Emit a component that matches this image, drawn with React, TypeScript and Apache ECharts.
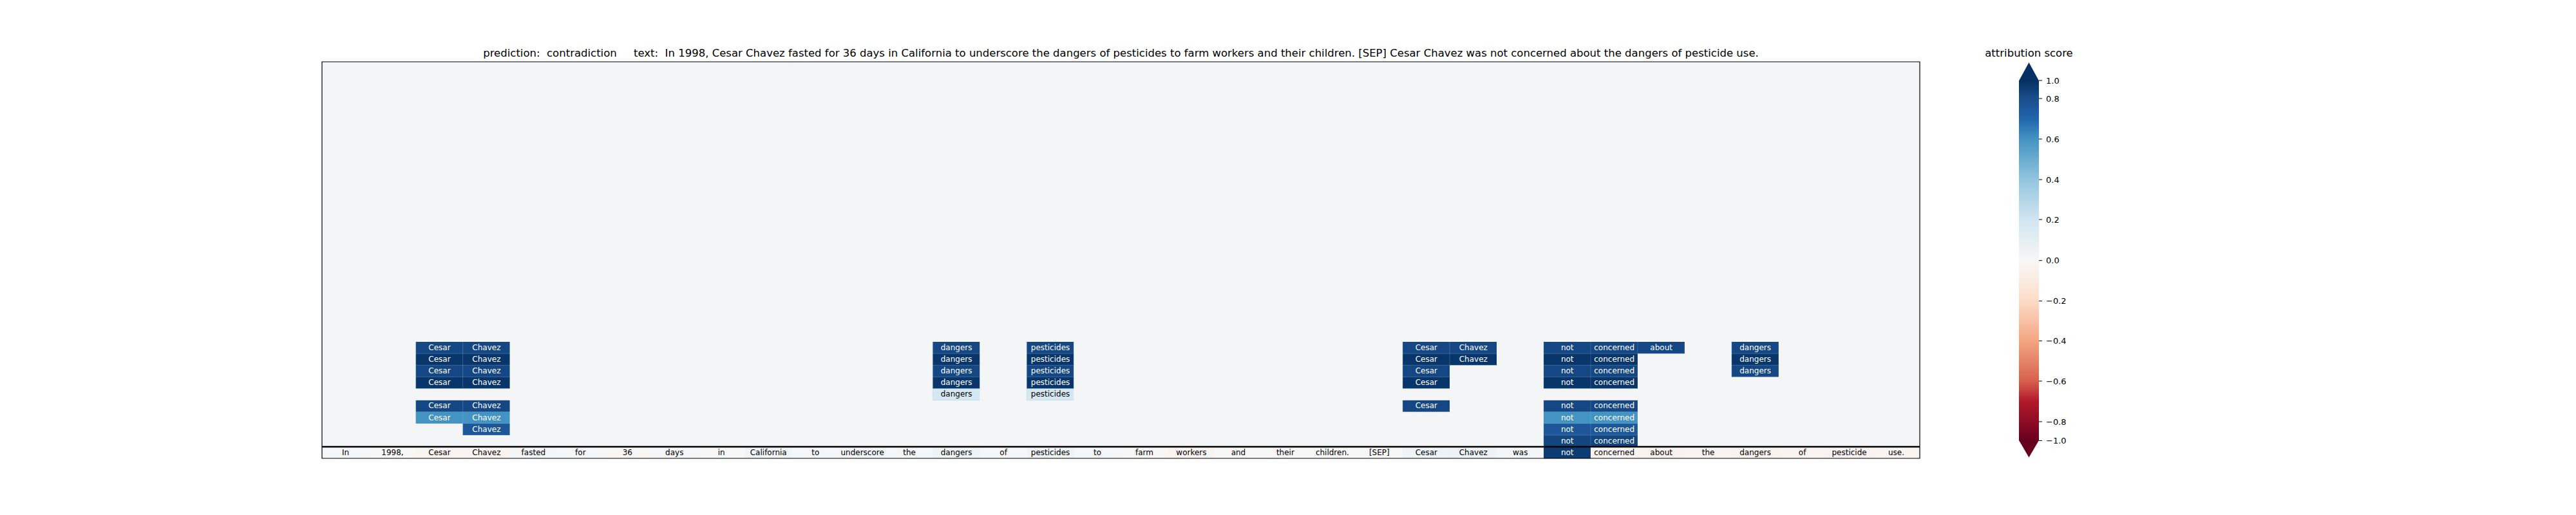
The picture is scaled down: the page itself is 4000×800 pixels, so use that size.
import React, { useEffect, useRef } from "react";
import * as echarts from "echarts";

// ---------------- data ----------------
const tokens = [
  "In", "1998,", "Cesar", "Chavez", "fasted", "for", "36", "days", "in", "California",
  "to", "underscore", "the", "dangers", "of", "pesticides", "to", "farm", "workers", "and",
  "their", "children.", "[SEP]", "Cesar", "Chavez", "was", "not", "concerned", "about", "the",
  "dangers", "of", "pesticide", "use.",
];

const rowCount = 34;
const backgroundScore = 0.018;

// bottom row: attribution of each input token
const inputRowScores = [
  0.01, 0.0, -0.02, -0.02, 0.02, 0.01, -0.01, 0.01, 0.0, 0.03,
  0.01, 0.03, 0.01, 0.05, 0.01, 0.05, 0.01, 0.0, -0.02, 0.0,
  0.0, 0.0, 0.0, 0.05, 0.06, 0.02, 0.92, -0.02, -0.04, -0.02,
  -0.03, -0.02, -0.03, -0.02,
];

// highlighted cells per row (row index counted from the bottom): [token index, score]
const row1 = [[26, 0.86], [27, 0.86]];
const row2 = [[3, 0.76], [26, 0.76], [27, 0.76]];
const row3 = [[2, 0.6], [3, 0.6], [26, 0.6], [27, 0.6]];
const row4 = [[2, 0.84], [3, 0.84], [23, 0.84], [26, 0.84], [27, 0.84]];
const row5 = [[13, 0.18], [15, 0.18]];
const row6 = [[2, 0.96], [3, 0.96], [13, 0.96], [15, 0.96], [23, 0.96], [26, 0.96], [27, 0.96]];
const row7 = [[2, 0.84], [3, 0.84], [13, 0.84], [15, 0.84], [23, 0.84], [26, 0.84], [27, 0.84], [30, 0.84]];
const row8 = [[2, 0.96], [3, 0.96], [13, 0.96], [15, 0.96], [23, 0.96], [24, 0.96], [26, 0.96], [27, 0.96], [30, 0.96]];
const row9 = [[2, 0.84], [3, 0.84], [13, 0.84], [15, 0.84], [23, 0.84], [24, 0.84], [26, 0.84], [27, 0.84], [28, 0.84], [30, 0.84]];
const highlightedRows: Record<number, number[][]> = { 1: row1, 2: row2, 3: row3, 4: row4, 5: row5, 6: row6, 7: row7, 8: row8, 9: row9 };

const titleText =
  "prediction:  contradiction     text:  In 1998, Cesar Chavez fasted for 36 days in California to underscore the dangers of pesticides to farm workers and their children. [SEP] Cesar Chavez was not concerned about the dangers of pesticide use.";
const colorbarTitle = "attribution score";
const colorbarTickValues = [1.0, 0.8, 0.6, 0.4, 0.2, 0.0, -0.2, -0.4, -0.6, -0.8, -1.0];
const colorbarTickLabels = ["1.0", "0.8", "0.6", "0.4", "0.2", "0.0", "\u22120.2", "\u22120.4", "\u22120.6", "\u22120.8", "\u22121.0"];

// RdBu palette, values 1.0 -> -1.0 in steps of 0.1
const rdbuColors = [
  "#053061", "#0e3f77", "#1a4d8c", "#2166ac", "#4393c3", "#6bacd1", "#92c5de", "#b2d5e7",
  "#d1e5f0", "#e4eef3", "#f7f7f7", "#faeae0", "#fddbc7", "#f9c0a5", "#f4a582", "#e58368",
  "#d6604d", "#b2182b", "#8e0c25", "#7a0622", "#67001f",
];

// ---------------- layout ----------------
const GRID = { left: 500, top: 96, width: 2481, height: 616 };
const FONT = "DejaVu Sans, Verdana, sans-serif";
const CB = { x: 3135, w: 31, top: 125, bottom: 684.5, tipTop: 97, tipBottom: 710.5 };
const cbTickY = [125, 153, 216, 279, 341, 404.7, 467.6, 529.6, 592, 655, 684.5];

function valueToCbY(v: number) {
  for (let i = 0; i < colorbarTickValues.length - 1; i++) {
    const a = colorbarTickValues[i];
    const b = colorbarTickValues[i + 1];
    if (v <= a && v >= b) {
      const t = (a - v) / (a - b);
      return cbTickY[i] + t * (cbTickY[i + 1] - cbTickY[i]);
    }
  }
  return v > 0 ? CB.top : CB.bottom;
}

export default function App() {
  const ref = useRef<HTMLDivElement>(null);

  useEffect(() => {
    if (!ref.current) return;
    const chart = echarts.init(ref.current, undefined, { renderer: "svg" });

    const data: any[] = [];
    for (let y = 0; y < rowCount; y++) {
      const hl = highlightedRows[y] || [];
      for (let x = 0; x < tokens.length; x++) {
        if (y === 0) {
          const v = inputRowScores[x];
          data.push({
            value: [x, y, v],
            token: tokens[x],
            label: { color: v > 0.5 ? "#ffffff" : "#000000" },
          });
          continue;
        }
        const hit = hl.find((c) => c[0] === x);
        if (hit) {
          const v = hit[1];
          data.push({
            value: [x, y, v],
            token: tokens[x],
            label: { color: v > 0.5 ? "#ffffff" : "#000000" },
            itemStyle: { borderColor: "rgba(150,185,220,0.35)", borderWidth: 0.8 },
          });
        } else {
          data.push({ value: [x, y, backgroundScore], token: "" });
        }
      }
    }

    // colorbar gradient
    const stops = rdbuColors.map((c, i) => {
      const v = 1 - i * 0.1;
      return { offset: (valueToCbY(v) - CB.top) / (CB.bottom - CB.top), color: c };
    });

    const sepY = GRID.top + (GRID.height * (rowCount - 1)) / rowCount;

    const graphics: any[] = [
      {
        type: "text",
        x: GRID.left + GRID.width / 2,
        y: 82,
        style: { text: titleText, fill: "#000", font: `16.5px ${FONT}`, textAlign: "center", textVerticalAlign: "middle" },
      },
      {
        type: "rect",
        shape: { x: GRID.left, y: GRID.top, width: GRID.width, height: GRID.height },
        style: { fill: "none", stroke: "#000", lineWidth: 1.2 },
        z: 100,
      },
      {
        type: "line",
        shape: { x1: GRID.left, y1: sepY, x2: GRID.left + GRID.width, y2: sepY },
        style: { stroke: "#000", lineWidth: 2.5 },
        z: 100,
      },
      {
        type: "text",
        x: CB.x + CB.w / 2,
        y: 82,
        style: { text: colorbarTitle, fill: "#000", font: `16.5px ${FONT}`, textAlign: "center", textVerticalAlign: "middle" },
      },
      {
        type: "rect",
        shape: { x: CB.x, y: CB.top, width: CB.w, height: CB.bottom - CB.top },
        style: { fill: new echarts.graphic.LinearGradient(0, 0, 0, 1, stops), stroke: "none" },
      },
      {
        type: "polygon",
        shape: { points: [[CB.x, CB.top + 0.5], [CB.x + CB.w, CB.top + 0.5], [CB.x + CB.w / 2, CB.tipTop]] },
        style: { fill: rdbuColors[0] },
      },
      {
        type: "polygon",
        shape: { points: [[CB.x, CB.bottom - 0.5], [CB.x + CB.w, CB.bottom - 0.5], [CB.x + CB.w / 2, CB.tipBottom]] },
        style: { fill: rdbuColors[rdbuColors.length - 1] },
      },
    ];
    colorbarTickValues.forEach((v, i) => {
      const y = cbTickY[i];
      graphics.push({
        type: "line",
        shape: { x1: CB.x + CB.w, y1: y, x2: CB.x + CB.w + 5, y2: y },
        style: { stroke: "#000", lineWidth: 1 },
      });
      graphics.push({
        type: "text",
        x: CB.x + CB.w + 11,
        y,
        style: { text: colorbarTickLabels[i], fill: "#000", font: `13px ${FONT}`, textAlign: "left", textVerticalAlign: "middle" },
      });
    });

    chart.setOption({
      animation: false,
      backgroundColor: "#ffffff",
      grid: { ...GRID, containLabel: false },
      xAxis: {
        type: "category",
        data: tokens.map((_, i) => String(i)),
        show: false,
        boundaryGap: true,
      },
      yAxis: {
        type: "category",
        data: Array.from({ length: rowCount }, (_, i) => String(i)),
        show: false,
        boundaryGap: true,
      },
      visualMap: {
        type: "continuous",
        show: false,
        min: -1,
        max: 1,
        dimension: 2,
        seriesIndex: 0,
        inRange: { color: rdbuColors.slice().reverse() },
      },
      series: [
        {
          type: "heatmap",
          data,
          label: {
            show: true,
            fontFamily: FONT,
            fontSize: 12,
            formatter: (p: any) => (p.data && p.data.token) || "",
          },
          emphasis: { disabled: true },
          itemStyle: { borderWidth: 0 },
        },
      ],
      graphic: graphics,
    });

    return () => chart.dispose();
  }, []);

  return <div ref={ref} style={{ position: "absolute", left: 0, top: 0, width: 4000, height: 800 }} />;
}
